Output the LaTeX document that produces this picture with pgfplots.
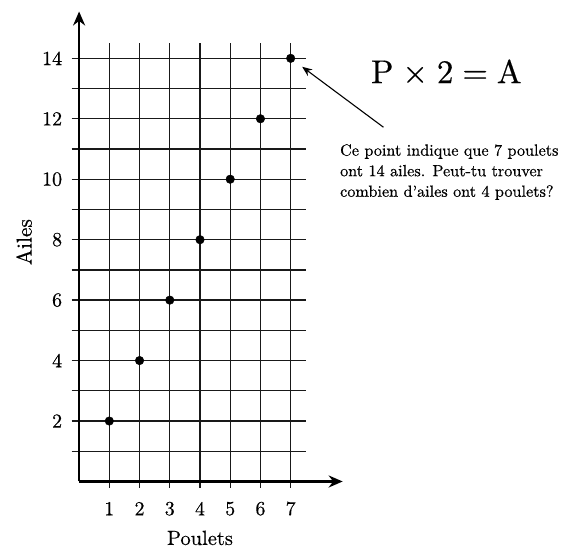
\documentclass[border=0pt]{standalone}
\usepackage{fontspec}
\setmainfont{lmroman10-regular.otf}[FakeBold=0.5]
\usepackage{pgfplots}
\pgfplotsset{compat=1.18}
\usetikzlibrary{arrows.meta}
\begin{document}
\begin{tikzpicture}
\begin{axis}[
  x=30.23pt, y=30.23pt,
  xmin=-2.617, xmax=16.01, ymin=-2.20, ymax=15.93,
  hide axis, clip=false,
]
\coordinate (BL) at (axis cs:-2.617,-2.20);
\coordinate (TR) at (axis cs:16.01,15.93);
% grid
\foreach \i in {1,...,7} {
  \edef\tmp{\noexpand\draw[line width=1.3pt, black!90] (axis cs:\i,-0.2) -- (axis cs:\i,14.5);}\tmp
}
\foreach \j in {1,...,14} {
  \edef\tmp{\noexpand\draw[line width=1.3pt, black!90] (axis cs:-0.25,\j) -- (axis cs:7.5,\j);}\tmp
}
% axes
\draw[line width=2.4pt, -{Stealth[length=14pt,width=12pt]}] (axis cs:0,0) -- (axis cs:8.72,0);
\draw[line width=2.4pt, -{Stealth[length=14pt,width=12pt]}] (axis cs:0,0) -- (axis cs:0,15.55);
% data
\addplot[only marks, mark=*, mark size=4.3pt, black] coordinates {
  (1,2) (2,4) (3,6) (4,8) (5,10) (6,12) (7,14)
};
% tick labels
\foreach \i in {1,...,7} {
  \edef\tmp{\noexpand\node[inner sep=0pt, font=\noexpand\fontsize{20}{24}\noexpand\selectfont] at (axis cs:\i,-0.90) {\i};}\tmp
}
\foreach \j in {2,4,...,14} {
  \edef\tmp{\noexpand\node[anchor=east, inner sep=0pt, font=\noexpand\fontsize{20}{24}\noexpand\selectfont] at (axis cs:-0.556,\j) {\j};}\tmp
}
% axis labels
\node[anchor=base, inner sep=0pt, font=\fontsize{20.5}{24}\selectfont] at (axis cs:4.0,-2.10) {Poulets};
\node[rotate=90, anchor=base, inner sep=0pt, font=\fontsize{21.5}{24}\selectfont] at (axis cs:-1.57,7.92) {Ailes};
% formula
\node[anchor=base, inner sep=0pt, font=\fontsize{33}{36}\selectfont] at (axis cs:12.15,13.18) {P\hspace{0.27em}×\hspace{0.27em}2\hspace{0.27em}=\hspace{0.27em}A};
% annotation
\draw[line width=1.1pt, -{Stealth[length=10pt,width=8pt]}] (axis cs:10.07,11.72) -- (axis cs:7.38,13.72);
\node[anchor=base west, inner sep=0pt, font=\fontsize{16.2}{20}\selectfont] at (axis cs:8.63,10.78) {Ce point indique que 7 poulets};
\node[anchor=base west, inner sep=0pt, font=\fontsize{16.2}{20}\selectfont] at (axis cs:8.63,10.10) {ont 14 ailes. Peut-tu trouver};
\node[anchor=base west, inner sep=0pt, font=\fontsize{16.2}{20}\selectfont] at (axis cs:8.63,9.42) {combien d’ailes ont 4 poulets?};
\end{axis}
\pgfresetboundingbox
\path (BL) rectangle (TR);
\end{tikzpicture}
\end{document}
